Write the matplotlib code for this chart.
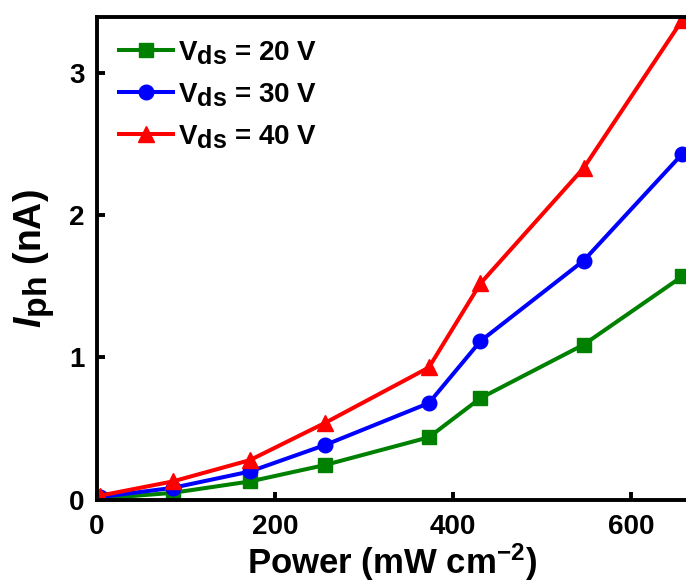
import contextlib
import matplotlib
matplotlib.use("Agg")
import matplotlib.pyplot as plt
import matplotlib._mathtext as _mt

plt.rcParams['font.family'] = ['Liberation Sans', 'DejaVu Sans']
plt.rcParams['font.weight'] = 'bold'
plt.rcParams['mathtext.fontset'] = 'custom'
plt.rcParams['mathtext.rm'] = 'Liberation Sans:bold'
plt.rcParams['mathtext.bf'] = 'Liberation Sans:bold'
plt.rcParams['mathtext.it'] = 'Liberation Sans:italic:bold'
plt.rcParams['mathtext.bfit'] = 'Liberation Sans:italic:bold'

# Illumination power density (mW cm^-2)
power = [3, 85, 172, 256, 373, 431, 547, 658]
# Photocurrent (nA) at each drain-source bias
iph_20v = [0.01, 0.05, 0.13, 0.245, 0.44, 0.715, 1.09, 1.57]
iph_30v = [0.02, 0.085, 0.20, 0.385, 0.68, 1.115, 1.68, 2.43]
iph_40v = [0.03, 0.13, 0.28, 0.54, 0.93, 1.52, 2.33, 3.37]

series = [
    (iph_20v, 'green', 's', 9.5, r'$\mathrm{V_{ds}}$ = 20 V'),
    (iph_30v, 'blue', 'o', 10.5, r'$\mathrm{V_{ds}}$ = 30 V'),
    (iph_40v, 'red', '^', 11, r'$\mathrm{V_{ds}}$ = 40 V'),
]


@contextlib.contextmanager
def large_subscripts(scale=0.9):
    old = _mt.SHRINK_FACTOR
    _mt.SHRINK_FACTOR = scale
    try:
        yield
    finally:
        _mt.SHRINK_FACTOR = old


def with_large_subscripts(artist):
    draw = artist.draw

    def wrapped(renderer, *args, **kwargs):
        with large_subscripts():
            return draw(renderer, *args, **kwargs)
    artist.draw = wrapped


fig = plt.figure(figsize=(6.86, 5.88), dpi=100)
ax = fig.add_axes([0.1414, 0.1497, 0.8586, 0.8215])

for vals, color, marker, ms, label in series:
    ax.plot(power, vals, color=color, marker=marker, lw=2.9, ms=ms,
            label=label)

ax.set_xlim(0, 662)
ax.set_ylim(0, 3.39)
ax.set_xticks([0, 200, 400, 600])
ax.set_yticks([0, 1, 2, 3])
ax.tick_params(direction='in', width=2.8, length=6, labelsize=20)
ax.tick_params(axis='x', pad=10)
ax.tick_params(axis='y', pad=9)
for s in ax.spines.values():
    s.set_linewidth(2.8)
ax.spines['right'].set_visible(False)

ax.set_xlabel(r'Power (mW cm$^{\mathbf{-2}}$)', fontsize=25,
              fontweight='bold', labelpad=1)
ax.set_ylabel(r'$\mathbfit{I}_{\mathbf{ph}}$ (nA)', fontsize=27,
              fontweight='bold', labelpad=9)
with_large_subscripts(ax.yaxis.label)

leg = ax.legend(loc='upper left', frameon=False, fontsize=20,
                handlelength=1.95, handletextpad=0.15, labelspacing=0.52,
                borderaxespad=0.4, borderpad=0.4)
with_large_subscripts(leg)

fig.savefig('out.png', dpi=100)
